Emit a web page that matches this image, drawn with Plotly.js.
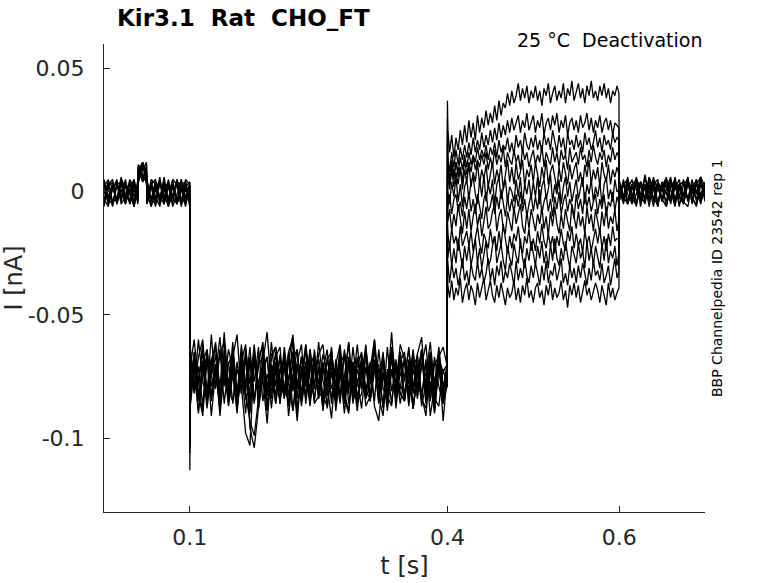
<!DOCTYPE html>
<html>
<head>
<meta charset="utf-8">
<script src="https://cdn.plot.ly/plotly-3.0.1.min.js"></script>
<style>html,body{margin:0;padding:0;background:#fff;}#chart{width:778px;height:583px;}</style>
</head>
<body>
<div id="chart"></div>
<script>
// Sample times [s]
const t = [0,.005,.01,.015,.02,.025,.03,.035,.0395,.04,.045,.0495,.05,.055,.06,.065,.07,.075,.08,.085,.09,.095,.0998,
.1,.1005,.105,.11,.115,.12,.125,.13,.135,.14,.145,.15,.155,.16,.165,.17,.175,.18,.185,.19,.195,.2,.205,.21,.215,.22,.225,.23,.235,.24,.245,.25,.255,.26,.265,.27,.275,.28,.285,.29,.295,.3,.305,.31,.315,.32,.325,.33,.335,.34,.345,.35,.355,.36,.365,.37,.375,.38,.385,.39,.395,.3998,
.4,.4005,.4025,.405,.4075,.41,.4125,.415,.4175,.42,.4225,
.425,.4275,.43,.4325,.435,.4375,.44,.4425,.445,.4475,
.45,.4525,.455,.4575,.46,.4625,.465,.4675,.47,.4725,
.475,.4775,.48,.4825,.485,.4875,.49,.4925,.495,.4975,
.5,.5025,.505,.5075,.51,.5125,.515,.5175,.52,.5225,
.525,.5275,.53,.5325,.535,.5375,.54,.5425,.545,.5475,
.55,.5525,.555,.5575,.56,.5625,.565,.5675,.57,.5725,
.575,.5775,.58,.5825,.585,.5875,.59,.5925,.595,.5975,.5998,
.6,.605,.61,.615,.62,.625,.63,.635,.64,.645,.65,.655,.66,.665,.67,.675,.68,.685,.69,.695,.7];

// Current sweeps, in pA (1 pA = 0.001 nA)
const sweep1 = [3,-5,2,-4,4,-3,1,-6,3, 9,5,11, -4,4,-2,-6,3,-3,5,-5,1,-3,2,
-113,
-66,-82,-71,-87,-64,-79,-70,-88,-67,-80,
-61,-84,-72,-90,-68,-77,-63,-85,-74,-81,
-69,-86,-65,-78,-89,-70,-83,-62,-76,-84,
-71,-88,-67,-80,-73,-86,-64,-79,-69,-83,
-75,-62,-85,-70,-81,-66,-87,-72,-78,-65,
-83,-69,-88,-74,-64,-80,-71,-86,-67,-79,
-72,
37,
25,16,23,14,22,17,25,19,27,20,
29,22,28,21,31,24,30,26,33,27,
32,28,35,29,37,31,36,34,40,35,
41,36,39,44,37,42,38,43,36,41,
38,43,37,41,35,42,39,44,36,40,
43,37,41,38,44,36,42,39,45,37,
40,44,38,42,36,43,39,45,38,41,
37,43,39,44,38,42,36,41,39,43,
40,
5,-2,6,-3,3,-4,7,-1,4,-5,2,6,-3,4,-2,5,-4,3,-1,6,2];

const sweep2 = [-4,2,-6,3,-2,4,-5,1,-3, 6,12,4, -1,-6,3,-3,4,-5,2,-4,1,-6,3,
-104,
-80,-65,-84,-70,-88,-73,-62,-82,-76,-69,
-86,-72,-79,-98,-103,-67,-83,-71,-89,-74,
-66,-81,-70,-87,-75,-64,-85,-73,-80,-68,
-84,-71,-77,-63,-89,-74,-82,-68,-86,-72,
-79,-66,-85,-73,-70,-88,-76,-64,-81,-75,
-68,-87,-72,-80,-65,-84,-77,-90,-70,-83,
-79,
30,
14,8,16,10,17,11,18,13,19,14,
20,15,22,16,21,17,24,18,23,19,
25,20,26,21,28,22,27,23,29,24,
30,25,28,31,24,29,26,32,25,28,
31,24,29,26,32,23,28,30,25,31,
27,32,24,29,26,31,23,28,30,25,
29,24,31,26,28,32,25,30,24,29,
26,31,24,28,30,25,29,23,28,27,
26,
-2,4,-5,3,1,-4,6,-3,2,-6,4,-1,5,-4,2,-2,6,-5,3,-1,0];

const sweep3 = [5,-2,3,-5,1,-3,4,-6,2, 11,7,4, 3,-3,-5,4,-1,-6,3,-4,5,-2,1,
-100,
-71,-60,-77,-65,-82,-68,-74,-59,-79,-64,
-72,-83,-62,-78,-67,-85,-70,-61,-80,-66,
-63,-76,-84,-69,-58,-79,-67,-75,-86,-64,
-78,-66,-73,-84,-70,-62,-81,-68,-76,-71,
-65,-82,-72,-60,-77,-69,-85,-63,-74,-80,
-67,-78,-64,-83,-70,-75,-61,-79,-68,-73,
-70,
25,
11,5,13,7,12,8,14,9,15,10,
16,11,15,12,18,13,17,14,19,13,
18,15,20,14,21,16,19,17,22,16,
20,15,23,18,21,16,24,19,17,22,
18,23,17,21,16,24,19,22,17,25,
20,16,23,18,22,15,24,19,21,17,
23,18,21,16,24,19,22,17,20,25,
18,22,16,23,19,21,17,24,20,22,
21,
-4,3,-1,-5,5,2,-3,6,-4,1,3,-6,2,5,-3,-1,6,-4,4,-2,2];

const sweep4 = [-3,-6,3,-4,5,-5,1,3,-4, 4,10,8, -5,2,-6,4,-3,2,-5,5,-4,3,-6,
-106,
-84,-70,-89,-75,-66,-91,-73,-85,-68,-87,
-74,-90,-69,-83,-80,-65,-88,-76,-94,-71,
-86,-72,-81,-66,-89,-77,-84,-70,-85,-73,
-68,-87,-79,-92,-71,-83,-65,-86,-75,-89,
-72,-84,-69,-87,-93,-74,-82,-67,-85,-78,
-83,-70,-88,-74,-85,-68,-91,-79,-71,-86,
-78,
20,
8,3,11,5,12,6,10,4,13,7,
12,8,14,9,13,10,15,11,16,9,
14,10,17,11,15,12,18,10,16,13,
11,17,12,15,9,18,13,16,10,14,
17,11,15,12,19,10,16,13,11,18,
12,16,10,17,13,15,9,18,12,14,
16,11,18,13,15,10,17,12,19,14,
11,16,13,17,10,15,12,18,13,16,
14,
2,-4,5,-1,-6,4,-3,1,5,-5,3,4,-4,6,-2,-5,3,-1,5,-4,1];

const sweep5 = [4,-3,1,5,-5,-2,3,-4,5, 10,4,9, 2,-4,4,-2,-5,5,-3,3,-6,2,4,
-98,
-82,-66,-79,-62,-85,-70,-61,-87,-72,-81,
-64,-84,-77,-68,-89,-63,-80,-71,-86,-73,
-67,-63,-83,-76,-65,-88,-74,-62,-84,-70,
-80,-72,-64,-86,-68,-83,-75,-61,-85,-78,
-69,-84,-78,-65,-73,-87,-63,-81,-71,-86,
-74,-64,-82,-70,-87,-78,-66,-84,-72,-80,
-75,
12,
6,1,9,2,8,3,10,1,9,4,
11,2,8,4,12,3,9,5,11,2,
8,12,3,9,5,11,1,8,13,4,
10,3,12,5,8,13,2,9,6,11,
4,12,7,2,10,5,13,3,8,11,
6,1,10,4,12,7,3,11,5,9,
12,4,8,2,11,6,13,3,9,5,
10,2,12,7,4,11,3,9,6,10,
7,
4,-2,-5,3,5,-3,-4,6,1,-6,4,2,-3,5,-5,-1,4,-4,3,6,-2];

const sweep6 = [-6,4,2,-3,6,-1,-4,3,-3, 5,12,7, -5,3,5,-4,1,4,-6,-1,5,-5,1,
-96,
-63,-80,-60,-77,-83,-58,-79,-66,-61,-84,
-67,-58,-82,-64,-78,-62,-85,-69,-57,-79,
-65,-81,-63,-78,-60,-84,-67,-79,-64,-80,
-61,-77,-83,-65,-79,-63,-86,-68,-78,-62,
-80,-64,-77,-60,-84,-67,-79,-57,-82,-65,
-77,-63,-80,-66,-59,-83,-65,-78,-63,-80,
-69,
6,
0,-5,4,-2,6,-4,3,-6,2,5,
-3,4,6,-1,-5,5,-2,7,-4,3,
-1,5,-5,3,6,-3,1,5,-4,2,
0,-4,5,-2,6,-5,3,-1,5,-3,
4,-2,6,-5,2,5,-3,1,7,-4,
3,-1,5,-5,2,6,-2,4,-4,1,
5,-3,2,6,-5,3,-1,5,-4,2,
-2,4,-5,3,6,-3,1,-4,5,0,
1,
-3,5,-4,1,4,-6,3,-3,5,2,-4,1,6,-5,3,4,-3,5,-4,-1,4];

const sweep7 = [2,5,-5,3,-4,4,-1,-6,4, 8,11,3, 4,-6,1,5,-4,3,-2,-5,3,4,-4,
-102,
-87,-72,-90,-69,-85,-75,-66,-91,-73,-86,
-70,-88,-74,-82,-93,-99,-84,-69,-89,-73,
-86,-72,-68,-91,-75,-70,-87,-74,-69,-85,
-71,-89,-75,-67,-86,-73,-90,-70,-84,-76,
-88,-71,-85,-69,-83,-91,-72,-86,-68,-82,
-85,-70,-88,-74,-66,-86,-72,-89,-71,-84,
-77,
0,
-7,-1,-9,-3,-1,-8,-4,-10,-2,-7,
0,-8,-3,-9,-1,-6,-11,-3,0,-8,
-6,-1,-9,-2,-7,1,-5,-10,-2,-8,
-3,-9,-1,-6,0,-8,-3,-10,-5,-1,
-8,-2,-7,1,-9,-4,-1,-8,-3,-10,
-2,-7,0,-9,-4,-1,-8,-3,-6,-11,
-1,-7,-3,-9,0,-6,-2,-8,-4,-1,
-9,-3,-7,-1,-10,-4,-6,0,-8,-2,
-5,
1,-5,4,-3,5,-4,3,-6,4,2,-3,5,-5,3,1,-4,4,-2,-6,3,-2];

const sweep8 = [-4,2,4,-5,3,-3,5,2,-5, 11,6,4, -3,4,-4,6,-5,2,3,-3,-4,5,3,
-99,
-82,-66,-78,-62,-84,-68,-80,-64,-86,-70,
-65,-83,-68,-79,-63,-85,-70,-67,-82,-61,
-79,-67,-84,-65,-81,-69,-62,-86,-71,-66,
-84,-69,-80,-64,-87,-70,-66,-82,-63,-79,
-67,-81,-70,-85,-64,-80,-83,-66,-81,-69,
-65,-81,-68,-84,-70,-62,-82,-67,-79,-86,
-72,
-6,
-12,-7,-16,-9,-14,-5,-11,-17,-8,-15,
-7,-16,-10,-5,-14,-9,-18,-11,-6,-15,
-13,-8,-5,-16,-10,-7,-15,-17,-8,-12,
-16,-6,-13,-9,-5,-14,-17,-8,-15,-7,
-11,-16,-9,-13,-6,-15,-10,-18,-8,-14,
-6,-13,-17,-9,-15,-7,-12,-16,-5,-11,
-15,-8,-14,-10,-17,-6,-13,-9,-16,-7,
-12,-17,-8,-14,-6,-15,-10,-13,-7,-16,
-11,
3,-4,1,5,-5,4,-3,2,-6,4,1,-4,5,-3,3,-5,4,1,-3,5,-4];

const sweep9 = [3,-5,1,4,-3,5,-5,3,-2, 4,9,12, 5,-3,4,-5,1,-4,5,3,-5,-2,1,
-94,
-84,-68,-81,-89,-66,-83,-70,-87,-64,-80,
-85,-69,-82,-66,-96,-104,-88,-71,-67,-84,
-70,-86,-67,-83,-69,-91,-72,-65,-85,-71,
-68,-83,-87,-70,-84,-65,-82,-89,-69,-85,
-82,-66,-84,-70,-86,-68,-83,-64,-88,-71,
-69,-85,-71,-67,-84,-88,-70,-83,-65,-82,
-74,
-13,
-17,-23,-15,-21,-18,-24,-14,-22,-19,-16,
-22,-16,-24,-19,-14,-21,-25,-17,-20,-23,
-15,-21,-18,-24,-16,-22,-13,-20,-25,-18,
-23,-17,-20,-14,-22,-25,-18,-21,-15,-24,
-19,-24,-16,-21,-13,-20,-23,-17,-22,-18,
-25,-18,-22,-15,-21,-24,-16,-20,-14,-23,
-17,-22,-19,-25,-16,-21,-18,-24,-20,-15,
-21,-15,-23,-18,-24,-17,-22,-14,-20,-19,
-19,
-3,4,-5,1,5,-3,3,-4,6,-5,3,-1,-4,4,-6,3,5,-3,1,-5,3];

const sweep10 = [-1,4,-4,-3,5,2,-4,5,-3, 10,4,7, -4,5,3,-3,4,-6,-1,4,3,-4,4,
-101,
-64,-81,-67,-60,-83,-68,-63,-80,-57,-79,
-65,-82,-69,-62,-85,-66,-79,-64,-83,-68,
-63,-78,-81,-65,-59,-80,-67,-84,-64,-79,
-66,-62,-80,-68,-83,-65,-79,-61,-82,-67,
-80,-65,-78,-63,-81,-67,-84,-66,-79,-62,
-68,-83,-65,-80,-64,-79,-66,-82,-67,-63,
-71,
-20,
-27,-21,-30,-23,-29,-19,-26,-31,-22,-28,
-21,-30,-25,-19,-29,-23,-31,-26,-20,-30,
-28,-22,-18,-29,-25,-21,-28,-32,-22,-27,
-30,-21,-26,-29,-19,-27,-31,-23,-28,-20,
-25,-30,-22,-27,-20,-29,-24,-31,-21,-28,
-19,-27,-30,-23,-28,-20,-26,-31,-22,-25,
-29,-21,-27,-24,-31,-20,-28,-23,-30,-22,
-26,-31,-21,-28,-19,-29,-24,-27,-22,-30,
-25,
4,-3,3,-5,-1,4,-4,5,-3,-5,3,4,-3,1,5,-4,-6,3,4,-3,1];

const sweep11 = [-3,3,5,-4,1,-5,4,-2,3, 9,12,6, -2,3,-4,4,-5,3,-3,5,-4,1,-3,
-97,
-82,-67,-85,-69,-64,-83,-70,-88,-66,-81,
-68,-84,-65,-81,-69,-86,-67,-63,-82,-70,
-83,-66,-80,-85,-68,-64,-82,-69,-87,-67,
-81,-84,-68,-65,-82,-70,-86,-67,-83,-69,
-66,-81,-84,-68,-80,-65,-83,-87,-69,-82,
-84,-68,-81,-66,-83,-69,-85,-70,-67,-93,
-74,
-27,
-30,-37,-29,-35,-31,-38,-33,-27,-36,-32,
-38,-29,-34,-36,-28,-35,-31,-37,-33,-27,
-36,-31,-38,-30,-34,-28,-37,-32,-35,-29,
-33,-38,-28,-36,-31,-35,-27,-34,-37,-30,
-35,-29,-33,-38,-30,-36,-28,-37,-32,-34,
-29,-36,-32,-27,-37,-33,-38,-30,-35,-31,
-37,-30,-35,-29,-33,-38,-31,-36,-28,-34,
-32,-36,-29,-37,-34,-30,-38,-33,-27,-35,
-32,
-4,3,5,-3,-5,4,1,-4,3,5,-3,-6,4,1,3,-4,5,-3,-5,4,-2];

const sweep12 = [4,-3,-5,3,4,-4,1,5,-4, 5,11,8, 3,-4,1,-3,6,-4,3,-5,1,4,-3,
-103,
-86,-70,-82,-91,-68,-85,-72,-89,-69,-84,
-73,-87,-71,-84,-90,-68,-85,-74,-67,-88,
-72,-85,-70,-87,-74,-93,-71,-84,-68,-86,
-83,-70,-88,-73,-85,-67,-84,-90,-72,-86,
-70,-87,-83,-69,-85,-73,-89,-72,-84,-69,
-85,-73,-88,-71,-83,-91,-69,-84,-87,-72,
-79,
-34,
-38,-43,-36,-44,-39,-42,-35,-45,-40,-37,
-44,-38,-41,-46,-37,-43,-39,-35,-44,-40,
-36,-42,-45,-38,-43,-37,-41,-46,-39,-43,
-41,-36,-44,-39,-45,-38,-42,-35,-43,-40,
-45,-39,-37,-43,-40,-46,-38,-42,-36,-44,
-39,-43,-41,-36,-44,-40,-47,-38,-42,-37,
-43,-38,-45,-40,-36,-42,-39,-44,-41,-37,
-40,-45,-38,-42,-46,-37,-43,-39,-44,-41,
-39,
3,-3,4,-4,6,-1,-5,3,-3,4,-4,5,1,-6,3,4,-3,1,5,-4,1];

const sweeps = [sweep1,sweep2,sweep3,sweep4,sweep5,sweep6,sweep7,sweep8,sweep9,sweep10,sweep11,sweep12];

// Axis ticks
const xTickVals = [0.1, 0.4, 0.6];
const xTickText = ['0.1', '0.4', '0.6'];
const yTickVals = [0.05, 0, -0.05, -0.1];
const yTickText = ['0.05', '0', '-0.05', '-0.1'];

sweeps.forEach((s, i) => { if (s.length !== t.length) console.warn('sweep' + (i+1) + ' length ' + s.length + ' vs ' + t.length); });

const data = sweeps.map(s => ({
  x: t,
  y: s.map(v => v / 1000),
  type: 'scatter',
  mode: 'lines',
  line: {color: '#000000', width: 1.3},
  hoverinfo: 'skip'
}));

const axisCol = '#262626';
const layout = {
  width: 778, height: 583,
  margin: {l: 104, r: 73, t: 44, b: 71, pad: 0},
  paper_bgcolor: '#ffffff', plot_bgcolor: '#ffffff',
  showlegend: false,
  font: {family: 'DejaVu Sans, sans-serif', color: axisCol},
  title: {
    text: '<b>Kir3.1\u00a0 Rat\u00a0 CHO_FT</b>',
    font: {family: 'DejaVu Sans, sans-serif', size: 23, color: '#000000'},
    xref: 'container', yref: 'container',
    x: 117/778, xanchor: 'left', y: 1 - 18/583, yanchor: 'middle'
  },
  xaxis: {
    range: [0, 0.7], tickvals: xTickVals, ticktext: xTickText,
    ticks: 'inside', ticklen: 6, tickwidth: 1, tickcolor: axisCol,
    showline: true, linecolor: axisCol, linewidth: 1,
    showgrid: false, zeroline: false, mirror: false,
    tickfont: {size: 22, color: axisCol}, ticklabelstandoff: 6,
    title: {text: 't [s]', font: {size: 24, color: axisCol}, standoff: 7}
  },
  yaxis: {
    range: [-0.13, 0.06], tickvals: yTickVals, ticktext: yTickText,
    ticks: 'inside', ticklen: 6, tickwidth: 1, tickcolor: axisCol,
    showline: true, linecolor: axisCol, linewidth: 1,
    showgrid: false, zeroline: false, mirror: false,
    tickfont: {size: 22, color: axisCol}, ticklabelstandoff: 14,
    title: {text: 'I [nA]', font: {size: 24, color: axisCol}, standoff: 4}
  },
  annotations: [
    {text: '25 \u00b0C\u00a0 Deactivation', xref: 'paper', yref: 'paper',
     x: (704-104)/601, y: (512-40)/468, xanchor: 'right', yanchor: 'middle',
     showarrow: false, font: {size: 19, color: '#000000'}},
    {text: 'BBP Channelpedia ID 23542 rep 1', xref: 'paper', yref: 'paper',
     x: (717-104)/601, y: (512-278)/468, xanchor: 'center', yanchor: 'middle',
     textangle: -90, showarrow: false, font: {size: 14, color: '#000000'}}
  ]
};

Plotly.newPlot('chart', data, layout, {staticPlot: true, displayModeBar: false});
</script>
</body>
</html>
